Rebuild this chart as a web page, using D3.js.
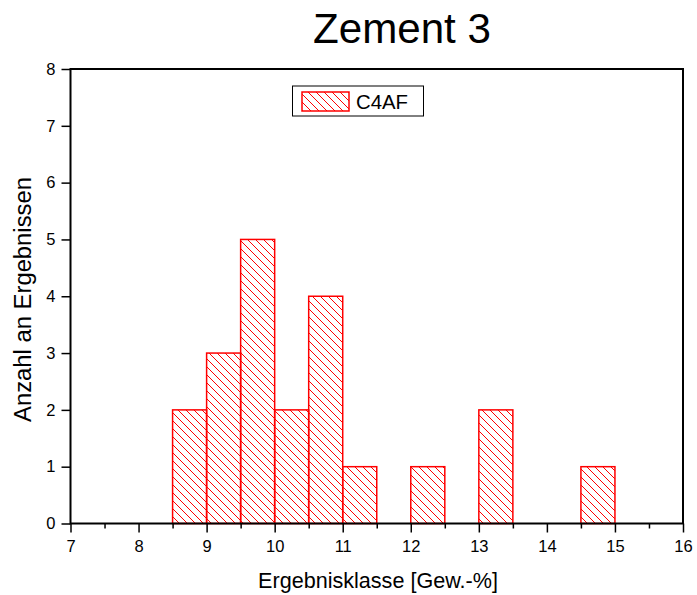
<!DOCTYPE html>
<html><head><meta charset="utf-8">
<script src="https://cdn.jsdelivr.net/npm/d3@7"></script>
<style>body{margin:0;background:#fff;}text{font-family:"Liberation Sans",Arial,sans-serif;}</style>
</head><body>
<svg id="c" width="697" height="595"></svg>
<script>
const binStarts = [8.5, 9, 9.5, 10, 10.5, 11, 12, 13, 14.5];
const binWidth = 0.5;
const counts = [2, 3, 5, 2, 4, 1, 1, 2, 1];
const xTicks = [7, 8, 9, 10, 11, 12, 13, 14, 15, 16];
const yTicks = [0, 1, 2, 3, 4, 5, 6, 7, 8];
const seriesName = "C4AF";
const title = "Zement 3";
const xLabel = "Ergebnisklasse [Gew.-%]";
const yLabel = "Anzahl an Ergebnissen";

const svg = d3.select("#c");
const x = d3.scaleLinear().domain([7, 16]).range([70.5, 683]);
const y = d3.scaleLinear().domain([0, 8]).range([523.5, 69]);

function fit(sel, target) {
  sel.attr("font-size", 100);
  const w = sel.node().getComputedTextLength();
  if (w > 0) sel.attr("font-size", 100 * target / w);
  return sel;
}

const defs = svg.append("defs");
const pat = defs.append("pattern").attr("id", "hatch").attr("patternUnits", "userSpaceOnUse")
  .attr("width", 8).attr("height", 8);
pat.append("path").attr("d", "M-2,-2 L10,10 M-2,6 L2,10 M6,-2 L10,2").attr("stroke", "red").attr("stroke-width", 1);

fit(svg.append("text").attr("x", 402).attr("y", 43).attr("text-anchor", "middle").text(title), 178);

svg.selectAll("rect.bar").data(binStarts).enter().append("rect").attr("class", "bar")
  .attr("x", d => x(d)).attr("width", d => x(d + binWidth) - x(d))
  .attr("y", (d, i) => y(counts[i])).attr("height", (d, i) => y(0) - y(counts[i]))
  .attr("fill", "url(#hatch)").attr("stroke", "red").attr("stroke-width", 1.5);

// frame
svg.append("rect").attr("x", x(7)).attr("y", y(8)).attr("width", x(16) - x(7)).attr("height", y(0) - y(8))
  .attr("fill", "none").attr("stroke", "#000").attr("stroke-width", 2);

const xAxis = svg.append("g").attr("transform", `translate(0,${y(0)})`)
  .call(d3.axisBottom(x).tickValues(xTicks).tickFormat(d3.format("d")).tickSize(9).tickPadding(8));
const xMinor = svg.append("g").attr("transform", `translate(0,${y(0)})`)
  .call(d3.axisBottom(x).tickValues(xTicks.slice(0, -1).map(v => v + 0.5)).tickFormat("").tickSize(5));
const yAxis = svg.append("g").attr("transform", `translate(${x(7)},0)`)
  .call(d3.axisLeft(y).tickValues(yTicks).tickFormat(d3.format("d")).tickSize(9).tickPadding(6));
[xAxis, xMinor, yAxis].forEach(g => {
  g.select(".domain").remove();
  g.selectAll(".tick line").attr("stroke", "#000").attr("stroke-width", 1.5);
  g.selectAll("text").attr("font-size", 16.5).attr("fill", "#000").attr("font-family", "Liberation Sans, Arial, sans-serif");
});

fit(svg.append("text").attr("x", 378).attr("y", 588).attr("text-anchor", "middle").text(xLabel), 240);
fit(svg.append("text").attr("transform", "translate(31,299.5) rotate(-90)").attr("text-anchor", "middle").text(yLabel), 245);

// legend
const lg = svg.append("g");
lg.append("rect").attr("x", 292.5).attr("y", 86).attr("width", 131).attr("height", 30).attr("fill", "#fff").attr("stroke", "#000").attr("stroke-width", 1);
lg.append("rect").attr("x", 302).attr("y", 92).attr("width", 47).attr("height", 19).attr("fill", "url(#hatch)").attr("stroke", "red").attr("stroke-width", 1.5);
fit(lg.append("text").attr("x", 356).attr("y", 109).text(seriesName), 52);
</script>
</body></html>
